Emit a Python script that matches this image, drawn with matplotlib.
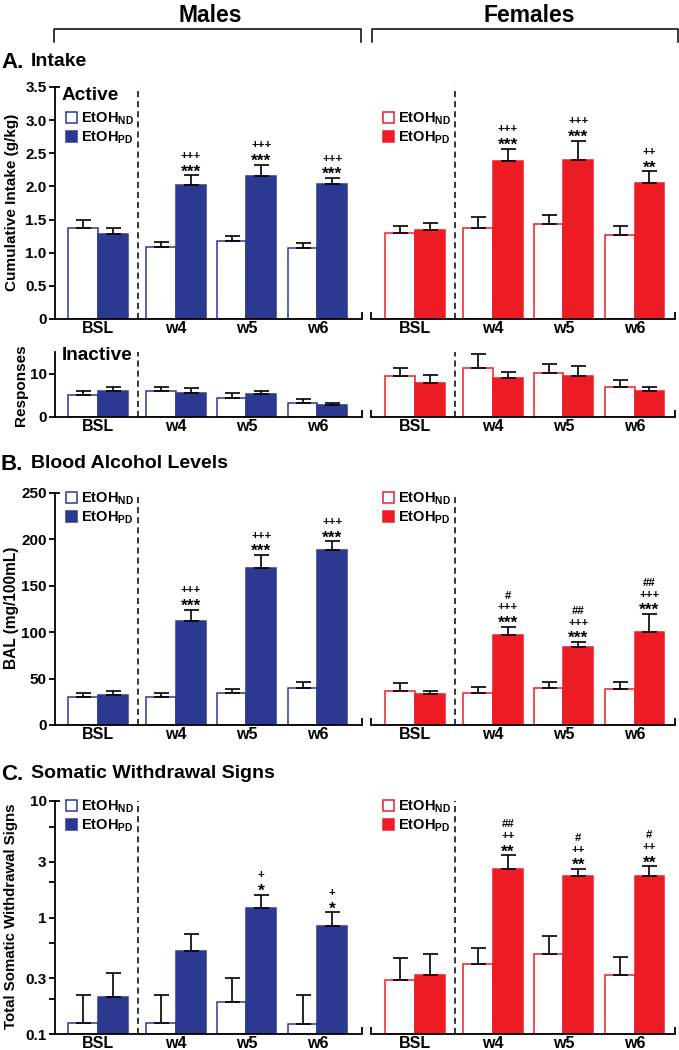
import matplotlib
matplotlib.use('Agg')
import matplotlib.pyplot as plt
from matplotlib.lines import Line2D
from matplotlib.ticker import FixedLocator, NullFormatter, NullLocator
import numpy as np

plt.rcParams['font.family'] = ['Liberation Sans', 'DejaVu Sans']
plt.rcParams['font.weight'] = 'bold'
plt.rcParams['mathtext.fontset'] = 'custom'
plt.rcParams['mathtext.rm'] = 'Liberation Sans:bold'
plt.rcParams['mathtext.it'] = 'Liberation Sans:bold'
plt.rcParams['mathtext.bf'] = 'Liberation Sans:bold'

W, H = 679, 1050
BLUE = '#2b3990'
RED = '#ed1c24'

groups = ['BSL', 'w4', 'w5', 'w6']

# A. Intake - active lever (g/kg)
act_m_nd = [1.38, 1.08, 1.17, 1.07]
act_m_nd_err = [0.12, 0.08, 0.08, 0.08]
act_m_pd = [1.28, 2.02, 2.15, 2.03]
act_m_pd_err = [0.10, 0.15, 0.18, 0.10]
act_f_nd = [1.29, 1.37, 1.44, 1.27]
act_f_nd_err = [0.12, 0.17, 0.13, 0.14]
act_f_pd = [1.34, 2.39, 2.40, 2.05]
act_f_pd_err = [0.11, 0.18, 0.29, 0.18]
act_m_sig = ['', '+++\n***', '+++\n***', '+++\n***']
act_f_sig = ['', '+++\n***', '+++\n***', '++\n**']

# A. Intake - inactive lever (responses)
inact_m_nd = [5.0, 5.9, 4.5, 3.2]
inact_m_nd_err = [1.1, 1.0, 1.1, 1.0]
inact_m_pd = [5.9, 5.6, 5.2, 2.7]
inact_m_pd_err = [1.1, 1.1, 0.9, 0.6]
inact_f_nd = [9.5, 11.4, 10.2, 7.0]
inact_f_nd_err = [1.9, 3.1, 2.1, 1.6]
inact_f_pd = [7.9, 8.9, 9.4, 6.0]
inact_f_pd_err = [1.9, 1.4, 2.4, 1.0]

# B. Blood alcohol levels (mg/100mL)
bal_m_nd = [30.7, 30.7, 34.3, 40.0]
bal_m_nd_err = [3.6, 3.9, 4.6, 6.4]
bal_m_pd = [32.5, 111.7, 169.3, 188.7]
bal_m_pd_err = [4.3, 12.7, 14.0, 9.3]
bal_f_nd = [36.4, 34.3, 39.6, 39.3]
bal_f_nd_err = [8.6, 6.4, 6.8, 7.1]
bal_f_pd = [33.2, 96.7, 84.1, 99.9]
bal_f_pd_err = [3.6, 9.3, 5.4, 19.8]
bal_m_sig = ['', '+++\n***', '+++\n***', '+++\n***']
bal_f_sig = ['', '#\n+++\n***', '##\n+++\n***', '##\n+++\n***']

# C. Somatic withdrawal signs
som_m_nd = [0.124, 0.124, 0.189, 0.123]
som_m_nd_err = [0.093, 0.093, 0.116, 0.094]
som_m_pd = [0.209, 0.517, 1.20, 0.847]
som_m_pd_err = [0.125, 0.202, 0.37, 0.263]
som_f_nd = [0.29, 0.395, 0.49, 0.318]
som_f_nd_err = [0.16, 0.15, 0.205, 0.141]
som_f_pd = [0.324, 2.61, 2.29, 2.25]
som_f_pd_err = [0.166, 0.82, 0.32, 0.51]
som_m_sig = ['', '', '+\n*', '+\n*']
som_f_sig = ['', '##\n++\n**', '#\n++\n**', '#\n++\n**']

fig = plt.figure(figsize=(W / 100, H / 100), dpi=100)


def fx(x):
    return x / W


def fy(y):
    return 1 - y / H


pos = np.array([0, 1.1, 2.09, 3.09])
bw = 0.42
dash_x = 0.56


def panel(x0, x1, y0, y1, xlim, nd, nd_err, pd, pd_err, color, sig, ylim,
          yticks=None, yticklabels=None, male=True, log=False, minor=None,
          topcap=True, legend_xy=None):
    ax = fig.add_axes([fx(x0), fy(y1), (x1 - x0) / W, (y1 - y0) / H])
    axw, axh = x1 - x0, y1 - y0
    if log:
        ax.set_yscale('log')
    base = ylim[0] if log else 0
    nd = np.array(nd)
    pd = np.array(pd)
    h_nd = ax.bar(pos - bw / 2, nd - base, bw, bottom=base, color='white',
                  edgecolor=color, linewidth=1.1, label='EtOH$_{ND}$', zorder=2)
    h_pd = ax.bar(pos + bw / 2, pd - base, bw, bottom=base, color=color,
                  edgecolor=color, linewidth=1.1, label='EtOH$_{PD}$', zorder=2)
    for xs, v, e in [(pos - bw / 2, nd, nd_err), (pos + bw / 2, pd, pd_err)]:
        ax.errorbar(xs, v, yerr=[np.zeros(len(v)), e], fmt='none', ecolor='black',
                    elinewidth=1.2, capsize=5.4, capthick=1.2, zorder=3)
    ax.axvline(dash_x, color='black', lw=1.1, ls=(0, (4, 2.6)), zorder=1)
    ax.set_xlim(*xlim)
    ax.set_ylim(*ylim)
    ax.set_xticks(pos)
    ax.set_xticklabels(groups, fontsize=11.5)
    ax.tick_params(axis='x', length=0, pad=1.5)
    for s in ['top', 'right']:
        ax.spines[s].set_visible(False)
    for s in ['left', 'bottom']:
        ax.spines[s].set_linewidth(1.3)
    if male:
        ax.set_yticks(yticks)
        ax.set_yticklabels(yticklabels, fontsize=11)
        if minor:
            ax.yaxis.set_minor_locator(FixedLocator(minor))
            ax.yaxis.set_minor_formatter(NullFormatter())
        else:
            ax.yaxis.set_minor_locator(NullLocator())
        ax.tick_params(axis='y', which='both', direction='out', length=4.5,
                       width=1.3, pad=1.5)
        if topcap:
            ax.plot([0, 5 / axw], [1, 1], transform=ax.transAxes, color='black',
                    lw=1.3, clip_on=False, solid_capstyle='butt')
        ends = [1]
    else:
        ax.spines['left'].set_visible(False)
        ax.yaxis.set_minor_locator(NullLocator())
        ax.set_yticks([])
        ax.tick_params(axis='y', which='both', left=False, labelleft=False)
        ends = [0, 1]
    for e in ends:
        ax.plot([e, e], [0, 7 / axh], transform=ax.transAxes, color='black',
                lw=1.3, clip_on=False, solid_capstyle='butt')

    # significance marks above the PD bars
    tops = pd + np.array(pd_err)
    for x, t, s in zip(pos + bw / 2, tops, sig):
        if not s:
            continue
        for j, line in enumerate(reversed(s.split('\n'))):
            center = (8.5 + 11.8 * j) * 0.72
            if '*' in line:
                fs, shift = 12.5, 7.0
            else:
                fs, shift = 8.2, 2.9
            ax.annotate(line, (x, t), xytext=(0, center - shift),
                        textcoords='offset points', ha='center', va='baseline',
                        fontsize=fs, fontweight='bold')

    if legend_xy is not None:
        ax.legend(handles=[h_nd, h_pd], loc='upper left',
                  bbox_to_anchor=(fx(legend_xy[0]), fy(legend_xy[1])),
                  bbox_transform=fig.transFigure, frameon=False, fontsize=10.5,
                  handlelength=0.78, handleheight=0.78, handletextpad=0.25,
                  labelspacing=0.15, borderpad=0, borderaxespad=0)
    return ax


MX = (55, 362, (-0.606, 3.718))
FX = (371, 675, (-0.62, 3.66))

act_ticks = [0, 0.5, 1.0, 1.5, 2.0, 2.5, 3.0, 3.5]
act_labels = ['0', '0.5', '1.0', '1.5', '2.0', '2.5', '3.0', '3.5']
bal_ticks = [0, 50, 100, 150, 200, 250]
bal_labels = ['0', '50', '100', '150', '200', '250']
som_ticks = [0.1, 0.3, 1, 3, 10]
som_labels = ['0.1', '0.3', '1', '3', '10']
som_minor = [0.2, 0.6, 2, 6]

# A - active
panel(MX[0], MX[1], 87, 319, MX[2], act_m_nd, act_m_nd_err, act_m_pd, act_m_pd_err,
      BLUE, act_m_sig, (0, 3.5), act_ticks, act_labels, legend_xy=(66, 111))
panel(FX[0], FX[1], 87, 319, FX[2], act_f_nd, act_f_nd_err, act_f_pd, act_f_pd_err,
      RED, act_f_sig, (0, 3.5), male=False, legend_xy=(383, 111))
# A - inactive
panel(MX[0], MX[1], 352, 417, MX[2], inact_m_nd, inact_m_nd_err, inact_m_pd, inact_m_pd_err,
      BLUE, ['', '', '', ''], (0, 15), [0, 10], ['0', '10'], topcap=False)
panel(FX[0], FX[1], 352, 417, FX[2], inact_f_nd, inact_f_nd_err, inact_f_pd, inact_f_pd_err,
      RED, ['', '', '', ''], (0, 15), male=False)
# B - BAL
panel(MX[0], MX[1], 493, 725, MX[2], bal_m_nd, bal_m_nd_err, bal_m_pd, bal_m_pd_err,
      BLUE, bal_m_sig, (0, 250), bal_ticks, bal_labels, legend_xy=(66, 491))
panel(FX[0], FX[1], 493, 725, FX[2], bal_f_nd, bal_f_nd_err, bal_f_pd, bal_f_pd_err,
      RED, bal_f_sig, (0, 250), male=False, legend_xy=(383, 491))
# C - somatic signs
panel(MX[0], MX[1], 801, 1034, MX[2], som_m_nd, som_m_nd_err, som_m_pd, som_m_pd_err,
      BLUE, som_m_sig, (0.1, 10), som_ticks, som_labels, log=True, minor=som_minor,
      legend_xy=(66, 799))
panel(FX[0], FX[1], 801, 1034, FX[2], som_f_nd, som_f_nd_err, som_f_pd, som_f_pd_err,
      RED, som_f_sig, (0.1, 10), male=False, log=True, legend_xy=(383, 799))

# headers with brackets
fig.text(fx(210), fy(16), 'Males', fontsize=16.5, ha='center', va='center')
fig.text(fx(529), fy(16), 'Females', fontsize=16.5, ha='center', va='center')
for a, b in [(54, 361), (372, 678)]:
    fig.add_artist(Line2D([fx(a), fx(a), fx(b), fx(b)], [fy(42), fy(29), fy(29), fy(42)],
                          transform=fig.transFigure, color='black', lw=1.1))

# section titles
for y, letter, title in [(62, 'A.', 'Intake'), (464, 'B.', 'Blood Alcohol Levels'),
                         (774, 'C.', 'Somatic Withdrawal Signs')]:
    fig.text(fx(1), fy(y), letter, fontsize=16, ha='left', va='center')
    fig.text(fx(31), fy(y), title, fontsize=14, ha='left', va='center')

fig.text(fx(62), fy(96), 'Active', fontsize=13.7, ha='left', va='center')
fig.text(fx(62), fy(356), 'Inactive', fontsize=13.7, ha='left', va='center')

# y labels
fig.text(fx(12), fy(202), 'Cumulative Intake (g/kg)', fontsize=11, rotation=90,
         ha='center', va='center')
fig.text(fx(21), fy(385), 'Responses', fontsize=11, rotation=90, ha='center', va='center')
fig.text(fx(12), fy(608), 'BAL (mg/100mL)', fontsize=11.2, rotation=90, ha='center', va='center')
fig.text(fx(11), fy(916), 'Total Somatic Withdrawal Signs', fontsize=10.8, rotation=90,
         ha='center', va='center')

fig.savefig('out.png', dpi=100)
